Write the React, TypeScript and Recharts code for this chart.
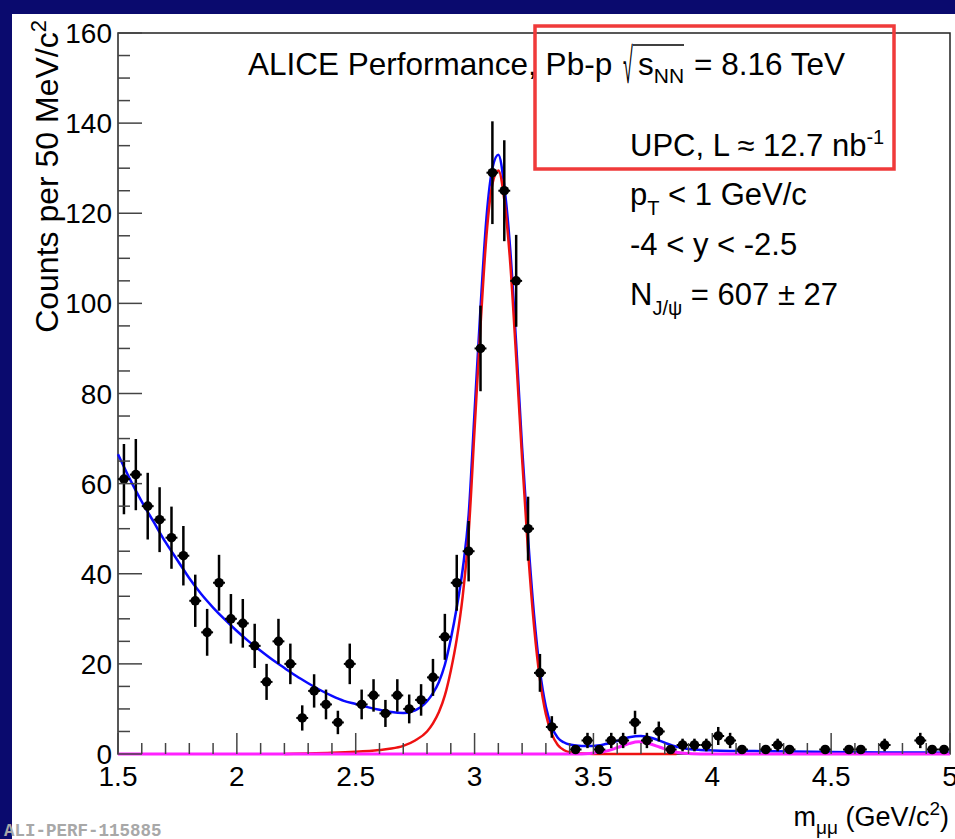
import React from "react";
import {
    ComposedChart,
    Line,
    Scatter,
    ErrorBar,
    XAxis,
    YAxis,
    ReferenceArea
} from "recharts";

// dimuon invariant mass, 50 MeV bins (only filled bins are drawn)
const pointMass = [
    1.525, 1.575, 1.625, 1.675, 1.725, 1.775, 1.825, 1.875, 1.925, 1.975,
    2.025, 2.075, 2.125, 2.175, 2.225, 2.275, 2.325, 2.375, 2.425, 2.475,
    2.525, 2.575, 2.625, 2.675, 2.725, 2.775, 2.825, 2.875, 2.925, 2.975,
    3.025, 3.075, 3.125, 3.175, 3.225, 3.275, 3.325,
    3.425, 3.475, 3.525, 3.575, 3.625, 3.675, 3.725, 3.775, 3.825, 3.875,
    3.925, 3.975, 4.025, 4.075, 4.125,
    4.225, 4.275, 4.325, 4.475, 4.575, 4.625, 4.725, 4.875, 4.925, 4.975
];
const pointCounts = [
    61, 62, 55, 52, 48, 44, 34, 27, 38, 30,
    29, 24, 16, 25, 20, 8, 14, 11, 7, 20,
    11, 13, 9, 13, 10, 12, 17, 26, 38, 45,
    90, 129, 125, 105, 50, 18, 6,
    1, 3, 1, 3, 3, 7, 3, 5, 1, 2,
    2, 2, 4, 3, 1,
    1, 2, 1, 1, 1, 1, 2, 3, 1, 1
];
const pointErr = [
    7.8, 7.9, 7.4, 7.2, 6.9, 6.6, 5.8, 5.2, 6.2, 5.5,
    5.4, 4.9, 4.0, 5.0, 4.5, 2.8, 3.7, 3.3, 2.6, 4.5,
    3.3, 3.6, 3.0, 3.6, 3.2, 3.5, 4.1, 5.1, 6.2, 6.7,
    9.5, 11.4, 11.2, 10.2, 7.1, 4.2, 2.4,
    1, 1.7, 1, 1.7, 1.7, 2.6, 1.7, 2.2, 1, 1.4,
    1.4, 1.4, 2, 1.7, 1,
    1, 1.4, 1, 1, 1, 1, 1.4, 1.7, 1, 1
];
const BIN_HALF_WIDTH = 0.025;

// total fit (blue)
const totalMass = [
    1.5, 1.55, 1.6, 1.65, 1.7, 1.75, 1.8, 1.85, 1.9, 1.95,
    2.0, 2.05, 2.1, 2.15, 2.2, 2.25, 2.3, 2.35, 2.4, 2.45,
    2.5, 2.55, 2.6, 2.65, 2.7, 2.75, 2.8,
    2.825, 2.85, 2.875, 2.9, 2.925, 2.95, 2.975, 3.0, 3.025, 3.05,
    3.075, 3.1, 3.125, 3.15, 3.175, 3.2, 3.225, 3.25, 3.275, 3.3,
    3.325, 3.35, 3.375, 3.4,
    3.45, 3.5, 3.55, 3.6, 3.65, 3.7, 3.75, 3.8, 3.85, 3.9, 3.95, 4.0,
    4.25, 4.5, 4.75, 5.0
];
const totalFit = [
    66.5, 61, 56, 51.5, 47, 43, 39, 35.5, 32.5, 29.8,
    27.3, 25, 22.9, 20.9, 19.1, 17.3, 15.7, 14.2, 12.9, 11.8,
    11.1, 10.4, 9.8, 9.3, 9.1, 9.7, 11.7,
    13.5, 16, 19.8, 25.5, 32.5, 41, 53, 76, 99, 119,
    130, 133, 126, 112, 91, 68, 48, 31, 18.5, 10.5,
    6, 3.6, 2.6, 2.1,
    1.8, 1.8, 2.2, 2.9, 3.7, 4.0, 3.5, 2.5, 1.6, 1.1, 0.9, 0.8,
    0.6, 0.45, 0.35, 0.3
];

// J/psi signal (red)
const jpsiMass = [
    2.2, 2.3, 2.4, 2.5, 2.6, 2.65, 2.7, 2.75, 2.8,
    2.825, 2.85, 2.875, 2.9, 2.925, 2.95, 2.975, 3.0, 3.025, 3.05,
    3.075, 3.1, 3.125, 3.15, 3.175, 3.2, 3.225, 3.25, 3.275, 3.3,
    3.325, 3.35, 3.375, 3.4,
    3.45, 3.5, 3.85
];
const jpsiFit = [
    0, 0.1, 0.25, 0.5, 0.9, 1.2, 1.8, 3.0, 5.0,
    6.8, 9.3, 13, 18.5, 25.5, 35, 49, 72, 95, 115,
    126.5, 129.5, 123, 109, 88, 65.5, 45, 28.5, 16.5, 8.8,
    4.4, 2.0, 0.9, 0.4,
    0.1, 0, 0
];

// psi(2S) signal (magenta)
const psi2sMass = [1.5, 3.45, 3.5, 3.55, 3.6, 3.65, 3.69, 3.73, 3.78, 3.83, 3.88, 3.95, 5.0];
const psi2sFit = [0, 0, 0.2, 0.6, 1.4, 2.3, 2.7, 2.4, 1.5, 0.6, 0.15, 0, 0];

const xTicks = [
    1.5, 1.6, 1.7, 1.8, 1.9, 2.0, 2.1, 2.2, 2.3, 2.4, 2.5, 2.6, 2.7, 2.8, 2.9,
    3.0, 3.1, 3.2, 3.3, 3.4, 3.5, 3.6, 3.7, 3.8, 3.9, 4.0, 4.1, 4.2, 4.3, 4.4,
    4.5, 4.6, 4.7, 4.8, 4.9, 5.0
];
const yTicks = [
    0, 5, 10, 15, 20, 25, 30, 35, 40, 45, 50, 55, 60, 65, 70, 75, 80,
    85, 90, 95, 100, 105, 110, 115, 120, 125, 130, 135, 140, 145, 150, 155, 160
];

const points = pointMass.map((m, i) => ({ m, v: pointCounts[i], ey: pointErr[i], ex: BIN_HALF_WIDTH }));
const total = totalMass.map((m, i) => ({ m, v: totalFit[i] }));
const jpsi = jpsiMass.map((m, i) => ({ m, v: jpsiFit[i] }));
const psi2s = psi2sMass.map((m, i) => ({ m, v: psi2sFit[i] }));

const FONT = '"Liberation Sans", Arial, Helvetica, sans-serif';
const TICK_COLOR = "#444";

const XTick = (props: any) => {
    const { x, y, payload } = props;
    const v = payload.value;
    const major = Math.abs(v * 2 - Math.round(v * 2)) < 1e-6;
    return (
        <g>
            <line x1={x} y1={y} x2={x} y2={y - (major ? 21 : 11)} stroke={TICK_COLOR} strokeWidth={1.5} />
            {major && (
                <text x={x} y={y + 32} textAnchor="middle" fontSize={28} fontFamily={FONT} fill="#000">
                    {String(v)}
                </text>
            )}
        </g>
    );
};

const YTick = (props: any) => {
    const { x, y, payload } = props;
    const v = payload.value;
    const major = v % 20 === 0;
    return (
        <g>
            <line x1={x} y1={y} x2={x + (major ? 24 : 12)} y2={y} stroke={TICK_COLOR} strokeWidth={1.5} />
            {major && (
                <text x={x - 6} y={y + 10} textAnchor="end" fontSize={28} fontFamily={FONT} fill="#000">
                    {String(v)}
                </text>
            )}
        </g>
    );
};

const Dot = (props: any) => <circle cx={props.cx} cy={props.cy} r={4.8} fill="#000" />;

export default function App() {
    return (
        <div style={{ position: "absolute", left: 0, top: 0, width: 955, height: 839, background: "#0a0a6e", overflow: "hidden" }}>
            <div style={{ position: "absolute", left: 12, top: 14, width: 943, height: 825, background: "#fff" }} />
            <div style={{ position: "absolute", left: 0, top: 0 }}>
                <ComposedChart width={955} height={839} margin={{ top: 33, right: 5, bottom: 0, left: 0 }}>
                    <XAxis
                        type="number"
                        dataKey="m"
                        domain={[1.5, 5]}
                        ticks={xTicks}
                        interval={0}
                        height={85}
                        tickSize={0}
                        tickMargin={0}
                        tickLine={false}
                        axisLine={false}
                        tick={<XTick />}
                    />
                    <YAxis
                        type="number"
                        dataKey="v"
                        domain={[0, 160]}
                        ticks={yTicks}
                        interval={0}
                        width={118}
                        tickSize={0}
                        tickMargin={0}
                        tickLine={false}
                        axisLine={false}
                        tick={<YTick />}
                    />
                    <ReferenceArea x1={1.5} x2={5} y1={0} y2={160} fill="none" stroke="#222" strokeWidth={1.5} />
                    <Line data={total} dataKey="v" type="monotone" stroke="#0a0aff" strokeWidth={2.5} dot={false} isAnimationActive={false} />
                    <Line data={jpsi} dataKey="v" type="monotone" stroke="#ee1111" strokeWidth={2.5} dot={false} isAnimationActive={false} />
                    <Line data={psi2s} dataKey="v" type="monotone" stroke="#ff22ff" strokeWidth={3} dot={false} isAnimationActive={false} />
                    <Scatter data={points} dataKey="v" shape={<Dot />} isAnimationActive={false}>
                        <ErrorBar dataKey="ey" direction="y" width={0} stroke="#000" strokeWidth={2.5} />
                        <ErrorBar dataKey="ex" direction="x" width={0} stroke="#000" strokeWidth={2} />
                    </Scatter>
                </ComposedChart>
            </div>
            <svg width={955} height={839} style={{ position: "absolute", left: 0, top: 0, pointerEvents: "none" }} fontFamily={FONT}>
                <text x={248} y={75} fontSize={31.5} fill="#000">ALICE Performance, Pb-p</text>
                <text transform="translate(623,83) scale(0.6,1.65)" fontSize={30} fill="#000">√</text>
                <line x1={633} y1={45} x2={684} y2={45} stroke="#000" strokeWidth={1.5} />
                <text x={638} y={75} fontSize={31.5} fill="#000">
                    s<tspan dy={8} fontSize={21}>NN</tspan>
                </text>
                <text x={694} y={75} fontSize={31.5} fill="#000">= 8.16 TeV</text>
                <text x={630} y={156} fontSize={31} fill="#000">
                    UPC, L ≈ 12.7 nb<tspan dy={-12} fontSize={20}>-1</tspan>
                </text>
                <text x={630} y={205} fontSize={31} fill="#000">
                    p<tspan dy={10} fontSize={20}>T</tspan><tspan dy={-10}> &lt; 1 GeV/c</tspan>
                </text>
                <text x={630} y={255} fontSize={31} fill="#000">-4 &lt; y &lt; -2.5</text>
                <text x={630} y={305} fontSize={31} fill="#000">
                    N<tspan dy={10} fontSize={20}>J/ψ</tspan><tspan dy={-10}> = 607 ± 27</tspan>
                </text>
                <rect x={535} y={26} width={359} height={143} fill="none" stroke="#f03a3a" strokeWidth={3.5} />
                <text transform="translate(58,20) rotate(-90)" textAnchor="end" fontSize={32} fill="#000">
                    Counts per 50 MeV/c<tspan dy={-12} fontSize={22}>2</tspan>
                </text>
                <text x={949} y={826} textAnchor="end" fontSize={27} fill="#000">
                    m<tspan dy={8} fontSize={19}>μμ</tspan><tspan dy={-8}> (GeV/c</tspan><tspan dy={-11} fontSize={19}>2</tspan><tspan dy={11}>)</tspan>
                </text>
                <text x={4} y={836} fontSize={17.5} fontWeight="bold" fontFamily='"Liberation Mono", "DejaVu Sans Mono", monospace' fill="#a8a8a8">
                    ALI-PERF-115885
                </text>
            </svg>
        </div>
    );
}
